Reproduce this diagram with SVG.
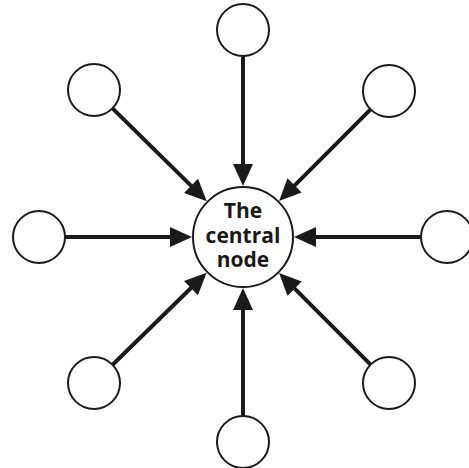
<svg xmlns="http://www.w3.org/2000/svg" width="469" height="468" viewBox="0 0 469 468">
  <defs>
    <marker id="head" markerUnits="userSpaceOnUse" viewBox="0 0 22 20" markerWidth="22" markerHeight="20" refX="2" refY="10" orient="auto">
      <path d="M0,0 L22,10 L0,20 z" fill="#1a1a1a"/>
    </marker>
    <style>
      .node { fill: #ffffff; stroke: #1a1a1a; stroke-width: 2; }
      .edge { stroke: #1a1a1a; stroke-width: 4; fill: none; marker-end: url(#head); }
      .label { font-family: "Open Sans", "Liberation Sans", sans-serif; font-weight: bold; font-size: 21px; fill: #1a1a1a; text-anchor: middle; }
    </style>
  </defs>
  <rect width="469" height="468" fill="#ffffff"/>

  <!-- spokes pointing into the hub -->
  <g id="connectors">
    <line class="edge" x1="243" y1="56" x2="243" y2="166"/>
    <line class="edge" x1="243" y1="416" x2="243" y2="308"/>
    <line class="edge" x1="65" y1="237" x2="172" y2="237"/>
    <line class="edge" x1="421" y1="237" x2="314" y2="237"/>
    <line class="edge" x1="112.5" y1="108.3" x2="192.5" y2="187.2"/>
    <line class="edge" x1="370.6" y1="109.4" x2="293.2" y2="186.8"/>
    <line class="edge" x1="112.6" y1="364.8" x2="192.3" y2="286.7"/>
    <line class="edge" x1="370.6" y1="364.6" x2="293.2" y2="287.2"/>
  </g>

  <!-- hub -->
  <g id="central">
    <circle class="node" cx="243" cy="237" r="50"/>
    <text class="label" x="243" y="218">The</text>
    <text class="label" x="243" y="243">central</text>
    <text class="label" x="243" y="267">node</text>
  </g>

  <!-- satellites -->
  <g id="top"><circle class="node" cx="243" cy="30" r="26"/></g>
  <g id="top-right"><circle class="node" cx="389" cy="91" r="26"/></g>
  <g id="right"><circle class="node" cx="447" cy="237" r="26"/></g>
  <g id="bottom-right"><circle class="node" cx="389" cy="383" r="26"/></g>
  <g id="bottom"><circle class="node" cx="243" cy="442" r="26"/></g>
  <g id="bottom-left"><circle class="node" cx="94" cy="383" r="26"/></g>
  <g id="left"><circle class="node" cx="39" cy="237" r="26"/></g>
  <g id="top-left"><circle class="node" cx="94" cy="90" r="26"/></g>
</svg>
